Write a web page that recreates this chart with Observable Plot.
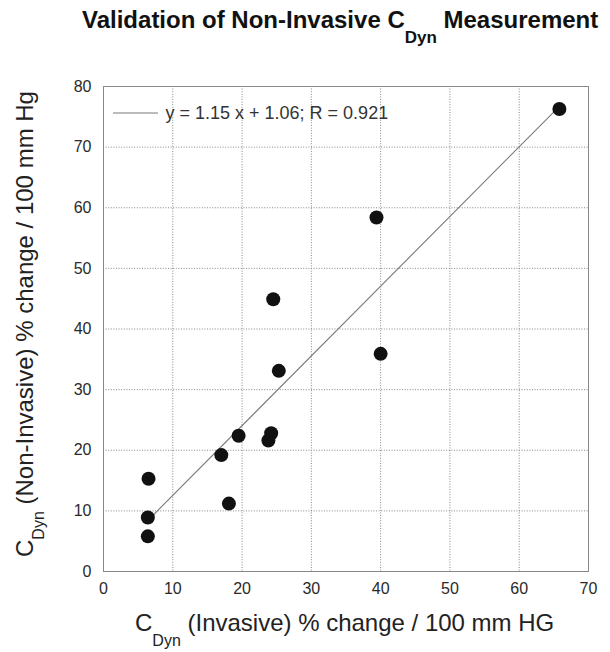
<!DOCTYPE html>
<html>
<head>
<meta charset="utf-8">
<script src="https://cdn.jsdelivr.net/npm/d3@7"></script>
<script src="https://cdn.jsdelivr.net/npm/@observablehq/plot@0.6"></script>
<style>
  html, body { margin: 0; padding: 0; background: #fff; }
  #chart svg { display: block; }
</style>
</head>
<body>
<div id="chart"></div>
<script>
// ---- data ----
const invasive    = [6.5, 6.4, 6.4, 17.0, 18.1, 19.5, 23.8, 24.2, 25.3, 40.0, 24.5, 39.4, 65.8];
const nonInvasive = [15.3, 8.9, 5.8, 19.2, 11.2, 22.4, 21.6, 22.8, 33.1, 35.9, 44.9, 58.4, 76.3];
const xTicks = [0, 10, 20, 30, 40, 50, 60, 70];
const yTicks = [0, 10, 20, 30, 40, 50, 60, 70, 80];
const fitSlope = 1.15;
const fitIntercept = 1.06;
const fitR = 0.921;
const fitXRange = [7.0, 65.8];

const titleMain = "Validation of Non-Invasive C";
const titleSub = "Dyn";
const titleEnd = " Measurement";
const xLabelEnd = " (Invasive) % change / 100 mm HG";
const yLabelEnd = " (Non-Invasive) % change / 100 mm Hg";
const legendText = `y = ${fitSlope} x + ${fitIntercept}; R = ${fitR}`;

const points = invasive.map((x, i) => ({x, y: nonInvasive[i]}));
const fitLine = fitXRange.map(x => ({x, y: fitSlope * x + fitIntercept}));

const font = "'Liberation Sans', Arial, Helvetica, sans-serif";

const chart = Plot.plot({
  width: 610,
  height: 652,
  marginLeft: 103,
  marginRight: 22,
  marginTop: 86,
  marginBottom: 81,
  style: {fontFamily: font, fontSize: "16px", color: "#2a2a2a", background: "#fff", overflow: "visible"},
  x: {domain: [0, 70], label: null},
  y: {domain: [0, 80], label: null},
  marks: [
    Plot.gridX(xTicks, {stroke: "#888", strokeOpacity: 1, strokeDasharray: "1,1.6"}),
    Plot.gridY(yTicks, {stroke: "#888", strokeOpacity: 1, strokeDasharray: "1,1.6"}),
    Plot.frame({stroke: "#888"}),
    Plot.axisX(xTicks, {tickSize: 0, tickPadding: 11, fontSize: 16, label: null}),
    Plot.axisY(yTicks, {tickSize: 0, tickPadding: 12, fontSize: 16, label: null}),
    Plot.line(fitLine, {x: "x", y: "y", stroke: "#7a7a7a", strokeWidth: 1.1}),
    Plot.dot(points, {x: "x", y: "y", r: 7, fill: "#111", stroke: "none"}),
    Plot.text([legendText], {frameAnchor: "top-left", dx: 62, dy: 27, textAnchor: "start", lineAnchor: "middle", fontSize: 18, fill: "#333"})
  ]
});

document.getElementById("chart").appendChild(chart);

const svg = d3.select(chart);

// legend swatch
svg.append("line")
  .attr("x1", 113).attr("x2", 158).attr("y1", 113).attr("y2", 113)
  .attr("stroke", "#7a7a7a").attr("stroke-width", 1.1);

// title
const t = svg.append("text")
  .attr("x", 82).attr("y", 28).attr("text-anchor", "start")
  .attr("font-family", font).attr("font-weight", "bold").attr("font-size", 24).attr("fill", "#111");
t.append("tspan").text(titleMain);
t.append("tspan").attr("font-size", 17).attr("dy", 15).text(titleSub);
t.append("tspan").attr("font-size", 24).attr("dy", -15).text(titleEnd);

// x label
const xl = svg.append("text")
  .attr("x", 135).attr("y", 631).attr("text-anchor", "start")
  .attr("font-family", font).attr("font-size", 24).attr("fill", "#222");
xl.append("tspan").text("C");
xl.append("tspan").attr("font-size", 16).attr("dy", 15).text("Dyn");
xl.append("tspan").attr("font-size", 24).attr("dy", -15).text(xLabelEnd);

// y label
const yl = svg.append("text")
  .attr("transform", "translate(33,557) rotate(-90)").attr("text-anchor", "start")
  .attr("font-family", font).attr("font-size", 24).attr("fill", "#222");
yl.append("tspan").text("C");
yl.append("tspan").attr("font-size", 16).attr("dy", 11).text("Dyn");
yl.append("tspan").attr("font-size", 24).attr("dy", -11).text(yLabelEnd);
</script>
</body>
</html>
